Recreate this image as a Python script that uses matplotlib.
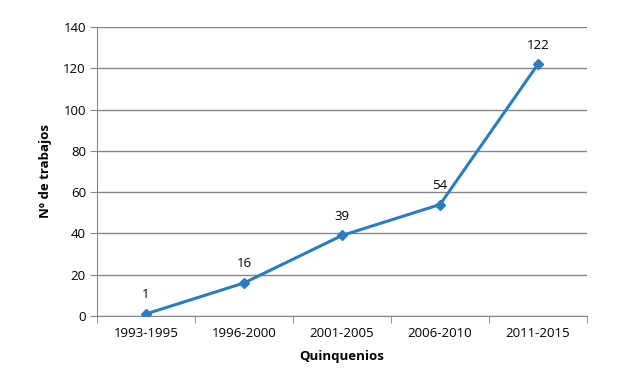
import matplotlib
matplotlib.use("Agg")
import matplotlib.pyplot as plt
import numpy as np

periodos = ["1993-1995", "1996-2000", "2001-2005", "2006-2010", "2011-2015"]
trabajos = [1, 16, 39, 54, 122]

plt.rcParams['font.family'] = ['Open Sans', 'DejaVu Sans']

fig = plt.figure(figsize=(6.44, 3.88), dpi=100)
ax = fig.add_axes([97/644, 1-316/388, 490/644, 289/388])

x = np.arange(len(periodos))
azul = "#2a7dc0"
ax.plot(x, trabajos, color=azul, lw=2.2, marker="D", ms=5.5, zorder=3)
for xi, v in zip(x, trabajos):
    ax.annotate(str(v), (xi, v), xytext=(0, 9), textcoords="offset points",
                ha="center", va="bottom", fontsize=9.5, color="black")

ax.set_xlim(-0.5, len(periodos)-0.5)
ax.set_ylim(0, 140)
ax.set_yticks(range(0, 141, 20))
ax.set_xticks(x)
ax.set_xticklabels(periodos)
ax.set_xticks(np.arange(-0.5, len(periodos)), minor=True)
ax.grid(axis="y", color="#868686", lw=1)
ax.set_axisbelow(True)
for s in ["top", "right"]:
    ax.spines[s].set_visible(False)
ax.spines["left"].set_color("#868686")
ax.spines["bottom"].set_color("#868686")
ax.tick_params(axis="x", which="major", length=0, labelsize=9.5, pad=8)
ax.tick_params(axis="x", which="minor", length=5, color="#868686")
ax.tick_params(axis="y", length=5, color="#868686", labelsize=9.5, pad=3)
ax.set_xlabel("Quinquenios", fontsize=9.5, fontweight="bold", labelpad=7)
ax.set_ylabel("Nº de trabajos", fontsize=9.5, fontweight="bold", labelpad=8)

fig.savefig("out.png", dpi=100)
